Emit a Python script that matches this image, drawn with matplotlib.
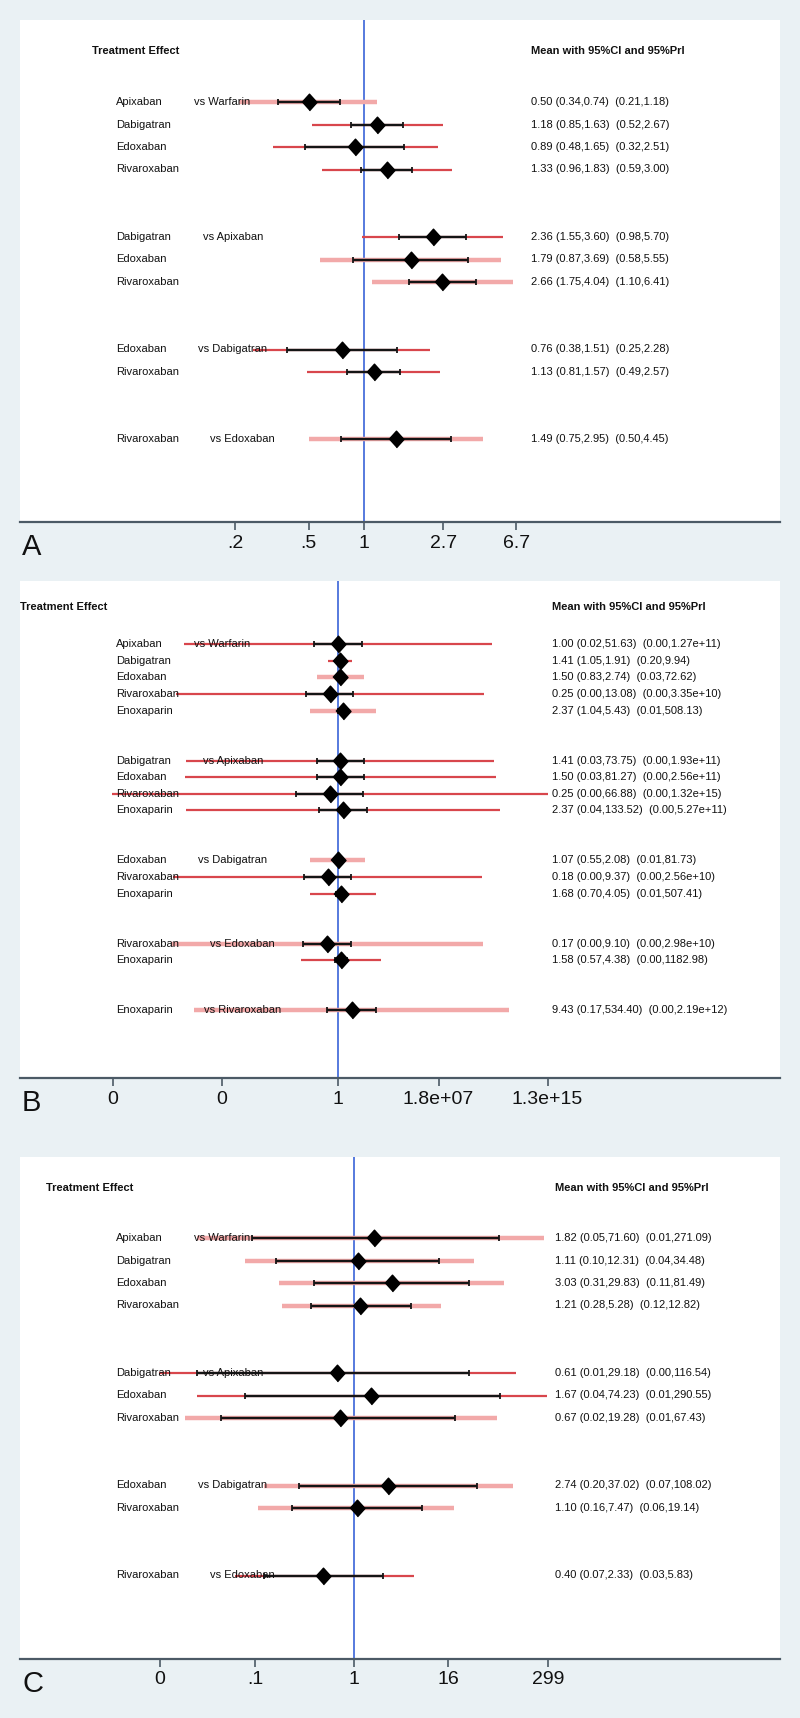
import numpy as np
import matplotlib
matplotlib.use('Agg')
import matplotlib.pyplot as plt
from matplotlib.ticker import NullLocator
from matplotlib.transforms import blended_transform_factory

plt.rcParams['font.family'] = ['Liberation Sans', 'DejaVu Sans']

W, H = 800, 1718

# ---- panel A ----
a_drugs = ['Apixaban', 'Dabigatran', 'Edoxaban', 'Rivaroxaban',
           'Dabigatran', 'Edoxaban', 'Rivaroxaban',
           'Edoxaban', 'Rivaroxaban',
           'Rivaroxaban']
a_refs = ['vs Warfarin', 'vs Apixaban', 'vs Dabigatran', 'vs Edoxaban']
a_sizes = [4, 3, 2, 1]
a_mean = [0.50, 1.18, 0.89, 1.33, 2.36, 1.79, 2.66, 0.76, 1.13, 1.49]
a_ci_lo = [0.34, 0.85, 0.48, 0.96, 1.55, 0.87, 1.75, 0.38, 0.81, 0.75]
a_ci_hi = [0.74, 1.63, 1.65, 1.83, 3.60, 3.69, 4.04, 1.51, 1.57, 2.95]
a_pri_lo = [0.21, 0.52, 0.32, 0.59, 0.98, 0.58, 1.10, 0.25, 0.49, 0.50]
a_pri_hi = [1.18, 2.67, 2.51, 3.00, 5.70, 5.55, 6.41, 2.28, 2.57, 4.45]
a_text = ['0.50 (0.34,0.74)  (0.21,1.18)', '1.18 (0.85,1.63)  (0.52,2.67)',
          '0.89 (0.48,1.65)  (0.32,2.51)', '1.33 (0.96,1.83)  (0.59,3.00)',
          '2.36 (1.55,3.60)  (0.98,5.70)', '1.79 (0.87,3.69)  (0.58,5.55)',
          '2.66 (1.75,4.04)  (1.10,6.41)', '0.76 (0.38,1.51)  (0.25,2.28)',
          '1.13 (0.81,1.57)  (0.49,2.57)', '1.49 (0.75,2.95)  (0.50,4.45)']
a_ticks = [0.2, 0.5, 1, 2.7, 6.7]
a_ticklabels = ['.2', '.5', '1', '2.7', '6.7']
a_pale = [1, 0, 0, 0, 0, 1, 1, 0, 0, 1]

# ---- panel B ----
b_drugs = ['Apixaban', 'Dabigatran', 'Edoxaban', 'Rivaroxaban', 'Enoxaparin',
           'Dabigatran', 'Edoxaban', 'Rivaroxaban', 'Enoxaparin',
           'Edoxaban', 'Rivaroxaban', 'Enoxaparin',
           'Rivaroxaban', 'Enoxaparin',
           'Enoxaparin']
b_refs = ['vs Warfarin', 'vs Apixaban', 'vs Dabigatran', 'vs Edoxaban', 'vs Rivaroxaban']
b_sizes = [5, 4, 3, 2, 1]
b_mean = [1.00, 1.41, 1.50, 0.25, 2.37, 1.41, 1.50, 0.25, 2.37, 1.07, 0.18, 1.68, 0.17, 1.58, 9.43]
b_ci_lo = [0.02, 1.05, 0.83, 0.0048, 1.04, 0.03, 0.03, 0.00093, 0.04, 0.55, 0.0035, 0.70, 0.0032, 0.57, 0.17]
b_ci_hi = [51.63, 1.91, 2.74, 13.08, 5.43, 73.75, 81.27, 66.88, 133.52, 2.08, 9.37, 4.05, 9.10, 4.38, 534.40]
b_pri_lo = [7.9e-12, 0.20, 0.03, 1.9e-12, 0.01, 1.0e-11, 8.8e-12, 4.7e-17, 1.1e-11,
            0.01, 1.3e-12, 0.01, 9.7e-13, 0.0021, 4.1e-11]
b_pri_hi = [1.27e11, 9.94, 72.62, 3.35e10, 508.13, 1.93e11, 2.56e11, 1.32e15, 5.27e11,
            81.73, 2.56e10, 507.41, 2.98e10, 1182.98, 2.19e12]
b_text = ['1.00 (0.02,51.63)  (0.00,1.27e+11)', '1.41 (1.05,1.91)  (0.20,9.94)',
          '1.50 (0.83,2.74)  (0.03,72.62)', '0.25 (0.00,13.08)  (0.00,3.35e+10)',
          '2.37 (1.04,5.43)  (0.01,508.13)', '1.41 (0.03,73.75)  (0.00,1.93e+11)',
          '1.50 (0.03,81.27)  (0.00,2.56e+11)', '0.25 (0.00,66.88)  (0.00,1.32e+15)',
          '2.37 (0.04,133.52)  (0.00,5.27e+11)', '1.07 (0.55,2.08)  (0.01,81.73)',
          '0.18 (0.00,9.37)  (0.00,2.56e+10)', '1.68 (0.70,4.05)  (0.01,507.41)',
          '0.17 (0.00,9.10)  (0.00,2.98e+10)', '1.58 (0.57,4.38)  (0.00,1182.98)',
          '9.43 (0.17,534.40)  (0.00,2.19e+12)']
b_ticks = [5.8e-17, 4.3e-9, 1, 1.8e7, 1.3e15]
b_ticklabels = ['0', '0', '1', '1.8e+07', '1.3e+15']
b_pale = [0, 0, 1, 0, 1, 0, 0, 0, 0, 1, 0, 0, 1, 0, 1]

# ---- panel C ----
c_drugs = ['Apixaban', 'Dabigatran', 'Edoxaban', 'Rivaroxaban',
           'Dabigatran', 'Edoxaban', 'Rivaroxaban',
           'Edoxaban', 'Rivaroxaban',
           'Rivaroxaban']
c_refs = ['vs Warfarin', 'vs Apixaban', 'vs Dabigatran', 'vs Edoxaban']
c_sizes = [4, 3, 2, 1]
c_mean = [1.82, 1.11, 3.03, 1.21, 0.61, 1.67, 0.67, 2.74, 1.10, 0.40]
c_ci_lo = [0.05, 0.10, 0.31, 0.28, 0.01, 0.04, 0.02, 0.20, 0.16, 0.07]
c_ci_hi = [71.60, 12.31, 29.83, 5.28, 29.18, 74.23, 19.28, 37.02, 7.47, 2.33]
c_pri_lo = [0.01, 0.04, 0.11, 0.12, 0.0032, 0.01, 0.007, 0.07, 0.06, 0.03]
c_pri_hi = [271.09, 34.48, 81.49, 12.82, 116.54, 290.55, 67.43, 108.02, 19.14, 5.83]
c_text = ['1.82 (0.05,71.60)  (0.01,271.09)', '1.11 (0.10,12.31)  (0.04,34.48)',
          '3.03 (0.31,29.83)  (0.11,81.49)', '1.21 (0.28,5.28)  (0.12,12.82)',
          '0.61 (0.01,29.18)  (0.00,116.54)', '1.67 (0.04,74.23)  (0.01,290.55)',
          '0.67 (0.02,19.28)  (0.01,67.43)', '2.74 (0.20,37.02)  (0.07,108.02)',
          '1.10 (0.16,7.47)  (0.06,19.14)', '0.40 (0.07,2.33)  (0.03,5.83)']
c_ticks = [0.0033, 0.055, 1, 16, 299]
c_ticklabels = ['0', '.1', '1', '16', '299']
c_pale = [1, 1, 1, 1, 0, 0, 1, 1, 1, 0]

# x pixel where each "vs ..." label starts
ref_x = {'vs Warfarin': 194, 'vs Apixaban': 203, 'vs Dabigatran': 198,
         'vs Edoxaban': 210, 'vs Rivaroxaban': 204}

bg = '#eaf1f4'
dark_red = '#d8464c'
pale_red = '#f2a9a9'
txt = '#111111'
axis_col = '#4c5a66'
blue = '#3a64d8'

fig = plt.figure(figsize=(W / 100, H / 100), dpi=100, facecolor=bg)


def panel(letter, drugs, refs, sizes, mean, ci_lo, ci_hi, pri_lo, pri_hi, texts,
          ticks, ticklabels, pale, top, axis_y, row0, step, x1, ppu, head_y, head_x, val_x):
    ax = fig.add_axes([20 / W, 1 - axis_y / H, 760 / W, (axis_y - top) / H])
    ax.set_facecolor('white')
    ax.set_xscale('log')
    ax.set_xlim(np.exp((20 - x1) / ppu), np.exp((780 - x1) / ppu))
    ax.set_ylim((axis_y - row0) / step, (top - row0) / step)

    # row index of each line, 2 blank rows between comparison groups
    rows = []
    first = []
    r = 0
    for n in sizes:
        first.append(r)
        for k in range(n):
            rows.append(r)
            r += 1
        r += 2

    ax.axvline(1, color=blue, lw=1.2, zorder=1)
    for i, y in enumerate(rows):
        if pale[i]:
            ax.hlines(y, pri_lo[i], pri_hi[i], color=pale_red, lw=3.2, zorder=2)
        else:
            ax.hlines(y, pri_lo[i], pri_hi[i], color=dark_red, lw=1.6, zorder=2)
        ax.errorbar(mean[i], y, xerr=[[mean[i] - ci_lo[i]], [ci_hi[i] - mean[i]]],
                    fmt='none', ecolor='#151515', elinewidth=1.7, capsize=2.2,
                    capthick=1.3, zorder=3)
    ax.plot(mean, rows, ls='none', marker=[(0, -1), (0.9, 0), (0, 1), (-0.9, 0)],
            ms=12, color='black', zorder=4)

    tr = blended_transform_factory(ax.transAxes, ax.transData)
    fx = lambda px: (px - 20) / 760
    hy = (head_y - row0) / step
    ax.text(fx(head_x), hy, 'Treatment Effect', transform=tr, fontsize=8,
            fontweight='bold', color=txt, va='center', zorder=5)
    ax.text(fx(val_x), hy, 'Mean with 95%CI and 95%PrI', transform=tr, fontsize=8,
            fontweight='bold', color=txt, va='center', zorder=5)
    for i, y in enumerate(rows):
        ax.text(fx(116), y, drugs[i], transform=tr, fontsize=8, color=txt,
                va='center', zorder=5)
        ax.text(fx(val_x), y, texts[i], transform=tr, fontsize=8, color=txt,
                va='center', zorder=5)
    for g, y in enumerate(first):
        ax.text(fx(ref_x[refs[g]]), y, refs[g], transform=tr, fontsize=8,
                color=txt, va='center', zorder=5)

    for s in ['top', 'left', 'right']:
        ax.spines[s].set_visible(False)
    ax.spines['bottom'].set_color(axis_col)
    ax.spines['bottom'].set_linewidth(1.6)
    ax.set_yticks([])
    ax.set_xticks(ticks)
    ax.set_xticklabels(ticklabels)
    ax.xaxis.set_minor_locator(NullLocator())
    ax.tick_params(axis='x', direction='out', length=6, width=1.2, color=axis_col,
                   labelsize=14, labelcolor='#111111', pad=3)
    fig.text(22 / W, 1 - (axis_y + 25) / H, letter, fontsize=21, color='#111111',
             va='center', ha='left')


panel('A', a_drugs, a_refs, a_sizes, a_mean, a_ci_lo, a_ci_hi, a_pri_lo, a_pri_hi,
      a_text, a_ticks, a_ticklabels, a_pale,
      top=20, axis_y=522, row0=102, step=22.5, x1=364, ppu=80,
      head_y=51, head_x=92, val_x=531)
panel('B', b_drugs, b_refs, b_sizes, b_mean, b_ci_lo, b_ci_hi, b_pri_lo, b_pri_hi,
      b_text, b_ticks, b_ticklabels, b_pale,
      top=581, axis_y=1078, row0=644, step=16.65, x1=338, ppu=6.02,
      head_y=607, head_x=20, val_x=552)
panel('C', c_drugs, c_refs, c_sizes, c_mean, c_ci_lo, c_ci_hi, c_pri_lo, c_pri_hi,
      c_text, c_ticks, c_ticklabels, c_pale,
      top=1157, axis_y=1659, row0=1238, step=22.5, x1=354, ppu=34,
      head_y=1188, head_x=46, val_x=555)

fig.savefig('out.png', dpi=100, facecolor=bg)
